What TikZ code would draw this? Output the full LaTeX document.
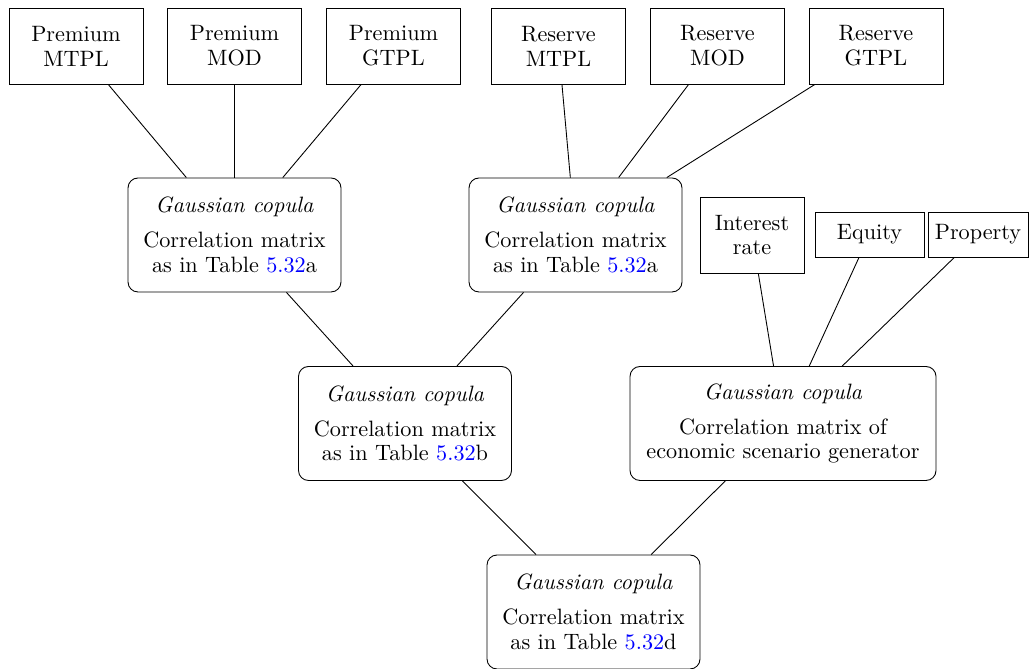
\documentclass[tikz,border=0pt]{standalone}
\usepackage{xcolor}
\begin{document}
\begin{tikzpicture}[x=0.45pt,y=-0.45pt,
  every node/.style={font=\fontsize{10}{11.2}\selectfont, align=center, inner sep=0pt},
  leaf/.style={draw, rectangle, minimum width=60.3pt, minimum height=34.2pt},
  cop/.style={draw, rectangle, rounded corners=4.5pt, minimum width=95.85pt, minimum height=51.3pt},
  link/.style={line width=0.4pt}]
\useasboundingbox (0,0) rectangle (1029,669);
% top leaves
\node[leaf] (pm)   at (76,46)    {Premium\\MTPL};
\node[leaf] (pmod) at (234.5,46) {Premium\\MOD};
\node[leaf] (pg)   at (393.5,46) {Premium\\GTPL};
\node[leaf] (rm)   at (558.5,46) {Reserve\\MTPL};
\node[leaf] (rmod) at (717.5,46) {Reserve\\MOD};
\node[leaf] (rg)   at (876,46)   {Reserve\\GTPL};
% copulas
\node[cop] (c1) at (234.5,235) {\textit{Gaussian copula}\\[4.5pt]Correlation matrix\\as in Table \textcolor{blue}{5.32}a};
\node[cop] (c2) at (575.5,235) {\textit{Gaussian copula}\\[4.5pt]Correlation matrix\\as in Table \textcolor{blue}{5.32}a};
\node[cop] (c3) at (405,423.5) {\textit{Gaussian copula}\\[4.5pt]Correlation matrix\\as in Table \textcolor{blue}{5.32}b};
\node[cop, minimum width=137.7pt] (esg) at (783,423.5) {\textit{Gaussian copula}\\[4.5pt]Correlation matrix of\\economic scenario generator};
\node[cop] (c5) at (593.5,612) {\textit{Gaussian copula}\\[4.5pt]Correlation matrix\\as in Table \textcolor{blue}{5.32}d};
% economic leaves
\node[leaf, minimum width=46.8pt] (ir) at (752,235) {Interest\\rate};
\node[draw, rectangle, minimum width=49pt, minimum height=20.25pt] (eq) at (869.5,234.5) {Equity};
\node[draw, rectangle, minimum width=45pt, minimum height=20.25pt] (pr) at (978,234.5) {Property};
% connectors
\draw[link] (pm) -- (c1);
\draw[link] (pmod) -- (c1);
\draw[link] (pg) -- (c1);
\draw[link] (rm) -- (c2);
\draw[link] (rmod) -- (c2);
\draw[link] (rg) -- (c2);
\draw[link] (ir) -- (esg);
\draw[link] (eq) -- (esg);
\draw[link] (pr) -- (esg);
\draw[link] (c1) -- (c3);
\draw[link] (c2) -- (c3);
\draw[link] (c3) -- (c5);
\draw[link] (esg) -- (c5);
\end{tikzpicture}
\end{document}
